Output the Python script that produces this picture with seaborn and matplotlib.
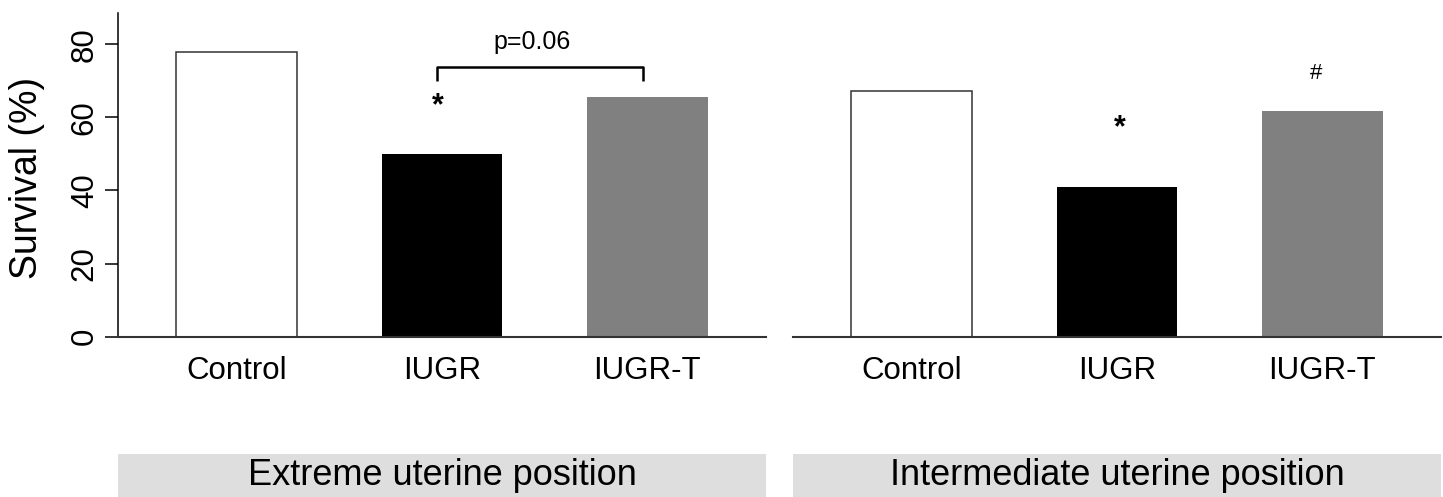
import matplotlib
matplotlib.use('Agg')
import matplotlib.pyplot as plt
import seaborn as sns
import pandas as pd

# ---- data ----
groups = ['Control', 'IUGR', 'IUGR-T']
extreme_survival = [77.8, 50.0, 65.5]
intermediate_survival = [67.3, 40.8, 61.6]
panel_titles = ['Extreme uterine position', 'Intermediate uterine position']
bar_colors = ['#ffffff', '#000000', '#808080']
y_ticks = [0, 20, 40, 60, 80]
y_label = 'Survival (%)'
p_text = 'p=0.06'

sns.set_theme(style='ticks')
plt.rcParams['font.family'] = ['Liberation Sans', 'DejaVu Sans']

df = pd.DataFrame({
    'position': [panel_titles[0]] * 3 + [panel_titles[1]] * 3,
    'group': groups * 2,
    'survival': extreme_survival + intermediate_survival,
})

W, H = 1443, 497
fig = plt.figure(figsize=(W / 100, H / 100), dpi=100)
ax_bottom = (H - 336.7) / H
ax_height = 324 / H
ax_l = fig.add_axes([118 / W, ax_bottom, 648 / W, ax_height])
ax_r = fig.add_axes([793 / W, ax_bottom, 648 / W, ax_height])

for ax, title in zip([ax_l, ax_r], panel_titles):
    sub = df[df['position'] == title]
    sns.barplot(data=sub, x='group', y='survival', hue='group', order=groups,
                hue_order=groups, palette=bar_colors, width=0.59, legend=False,
                errorbar=None, ax=ax, saturation=1)
    for patch, col in zip(ax.patches, bar_colors):
        if col == '#ffffff':
            patch.set_edgecolor('#333333')
            patch.set_linewidth(1.1)
        else:
            patch.set_edgecolor(col)
            patch.set_linewidth(0)
    ax.set_xlim(-0.58, 2.58)
    ax.set_ylim(0, 88.6)
    ax.set_xlabel('')
    for s in ['top', 'right']:
        ax.spines[s].set_visible(False)
    ax.spines['bottom'].set_color('#333333')
    ax.spines['bottom'].set_linewidth(1.5)
    ax.tick_params(axis='x', length=0, pad=14, labelsize=22.5, labelcolor='black')

    # strip below
    sax = fig.add_axes([ax.get_position().x0, 0, ax.get_position().width, 43 / H])
    sax.set_facecolor('#dedede')
    sax.set_xticks([])
    sax.set_yticks([])
    for s in sax.spines.values():
        s.set_visible(False)
    sax.text(0.5, 0.5, title, ha='center', va='center', fontsize=26, color='black',
             transform=sax.transAxes)

# left axis styling
ax_l.spines['left'].set_color('black')
ax_l.spines['left'].set_linewidth(1.1)
ax_l.set_yticks(y_ticks)
ax_l.set_yticklabels([str(t) for t in y_ticks], rotation=90, va='center')
ax_l.tick_params(axis='y', length=9.4, width=1.1, pad=3.7, labelsize=22.5,
                 color='black', labelcolor='black', direction='out')
ax_l.set_ylabel(y_label, fontsize=27, color='black')
ax_l.yaxis.set_label_coords(-0.113, 0.491)

# right axis styling
ax_r.spines['left'].set_visible(False)
ax_r.set_yticks([])
ax_r.set_ylabel('')

# annotations
ax_l.text(0.98, 63.0, '*', ha='center', va='center', fontsize=22, fontweight='bold',
          color='black')
ax_l.plot([0.977, 0.977, 1.982, 1.982], [69.8, 73.7, 73.7, 69.8], color='black',
          lw=1.8, solid_capstyle='butt')
ax_l.text(1.437, 80.6, p_text, ha='center', va='center', fontsize=18, color='black')
ax_r.text(1.015, 57.0, '*', ha='center', va='center', fontsize=22, fontweight='bold',
          color='black')
ax_r.text(1.97, 72.1, '#', ha='center', va='center', fontsize=16, color='black')

fig.savefig('out.png', dpi=100)
